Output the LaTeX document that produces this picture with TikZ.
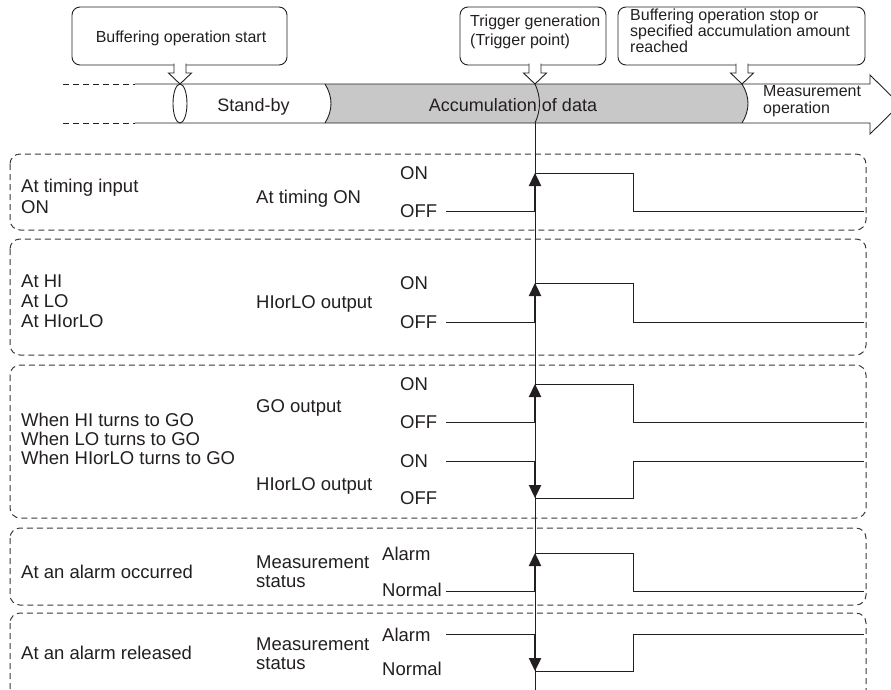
\documentclass[tikz,border=0pt]{standalone}
\usepackage{fontspec}
\setmainfont{Liberation Sans}
\usetikzlibrary{arrows.meta,positioning}
\definecolor{ink}{HTML}{231F20}
\definecolor{bandgray}{HTML}{C8C8C8}
\definecolor{dashgray}{HTML}{3A3A3A}
\tikzset{
  callbox/.style={
    draw=ink,
    line width=0.9pt,
    rounded corners=8pt
  },
  pointerbox/.style={draw=ink,fill=white,line width=0.9pt},
  panelbox/.style={
    draw=dashgray,
    line width=1pt,
    dash pattern=on 6pt off 4pt,
    rounded corners=10pt
  },
  bandline/.style={draw=ink,line width=0.9pt},
  wave/.style={draw=ink,line width=0.9pt},
  trigline/.style={draw=ink,line width=0.9pt},
  edgearrow/.style={-{Triangle[length=13pt,width=12pt]},line width=2.4pt,draw=ink},
  rowlabel/.style={anchor=west,inner sep=0pt,text height=13.2pt,text depth=0pt,text=ink,font=\fontsize{18.5}{22}\selectfont},
  bandlabel/.style={anchor=center,inner sep=0pt,text height=13pt,text depth=0pt,text=ink,font=\fontsize{18}{21}\selectfont},
  notelabel/.style={anchor=west,inner sep=0pt,text height=11.5pt,text depth=0pt,text=ink,font=\fontsize{16}{19}\selectfont}
}
\newcommand{\callpointer}[1]{%
  \filldraw[pointerbox] ({#1-6},63.5) -- ({#1-6},73) -- ({#1-11.5},73) -- (#1,84)
    -- ({#1+11.5},73) -- ({#1+6},73) -- ({#1+6},63.5);}

\begin{document}
\begin{tikzpicture}[x=1pt,y=-1pt]
  \useasboundingbox (0,0) rectangle (891,689);

  % callouts
  \draw[callbox] (72,7) rectangle (287,65);
  \draw[callbox] (460,7) rectangle (606,65);
  \draw[callbox] (618,7) rectangle (865,65);
  \node[notelabel,anchor=center] (startnote) at (181,37) {Buffering operation start};
  \node[notelabel] (trignote)  at (470,21) {Trigger generation};
  \node[notelabel] (trignote2) at (470,40) {(Trigger point)};
  \node[notelabel] (stopnote)  at (630,15) {Buffering operation stop or};
  \node[notelabel] (stopnote2) at (630,31) {specified accumulation amount};
  \node[notelabel] (stopnote3) at (630,47) {reached};

  % operation band
  \fill[bandgray] (325,84) .. controls (333,97) and (333,110) .. (325,123)
    -- (742,123) .. controls (750,110) and (750,97) .. (742,84) -- cycle;
  \draw[bandline,dash pattern=on 6pt off 4pt] (63,84) -- (135,84);
  \draw[bandline,dash pattern=on 6pt off 4pt] (63,123) -- (135,123);
  \draw[bandline] (135,84) -- (870,84) -- (870,75) -- (900,104.5) -- (870,134)
    -- (870,123) -- (135,123);
  \draw[bandline] (325,84) .. controls (333,97) and (333,110) .. (325,123);
  \draw[bandline] (742,84) .. controls (750,97) and (750,110) .. (742,123);
  \draw[bandline] (535,84) .. controls (541,97) and (541,110) .. (535,123);
  \draw[bandline,fill=white] (180,103.5) ellipse [x radius=7,y radius=19.5];
  \node[bandlabel] (standby) at (253.5,105) {Stand-by};
  \node[bandlabel] (accum)   at (513,105) {Accumulation of data};
  \node[notelabel] (measop)  at (763,91) {Measurement};
  \node[notelabel] (measop2) at (763,108) {operation};

  \callpointer{180}
  \callpointer{535}
  \callpointer{742}

  % condition panels
  \draw[panelbox] (10,154) rectangle (866,230);
  \draw[panelbox] (10,239) rectangle (866,355);
  \draw[panelbox] (10,365) rectangle (866,518);
  \draw[panelbox] (10,528) rectangle (866,605);
  \draw[panelbox] (10,613) rectangle (866,700);

  % trigger point
  \coordinate (trigtop) at (535,123);
  \coordinate (trigend) at (535,700);
  \draw[trigline] (trigtop) -- (trigend);

  % waveforms
  \draw[wave] (446,211) -- (535,211);
  \draw[wave] (535,173) -- (633,173) -- (633,211) -- (864,211);
  \draw[wave] (446,322) -- (535,322);
  \draw[wave] (535,283) -- (633,283) -- (633,322) -- (864,322);
  \draw[wave] (446,422) -- (535,422);
  \draw[wave] (535,384) -- (633,384) -- (633,422) -- (864,422);
  \draw[wave] (446,461) -- (535,461);
  \draw[wave] (535,498) -- (633,498) -- (633,461) -- (864,461);
  \draw[wave] (446,591) -- (535,591);
  \draw[wave] (535,553) -- (633,553) -- (633,591) -- (864,591);
  \draw[wave] (446,634) -- (535,634);
  \draw[wave] (535,671) -- (633,671) -- (633,634) -- (864,634);

  \draw[edgearrow] (535,211) -- (535,173);
  \draw[edgearrow] (535,322) -- (535,283);
  \draw[edgearrow] (535,422) -- (535,384);
  \draw[edgearrow] (535,461) -- (535,498);
  \draw[edgearrow] (535,591) -- (535,553);
  \draw[edgearrow] (535,634) -- (535,671);

  % panel 1
  \node[rowlabel] (timecond)  at (21,186) {At timing input};
  \node[rowlabel] (timecond2) at (21,207) {ON};
  \node[rowlabel] (timesig)   at (256,197) {At timing ON};
  \node[rowlabel] (timeon)    at (400,173) {ON};
  \node[rowlabel] (timeoff)   at (400,211) {OFF};

  % panel 2
  \node[rowlabel] (hicond)    at (21,281) {At HI};
  \node[rowlabel] (locond)    at (21,301) {At LO};
  \node[rowlabel] (hilocond)  at (21,321) {At HIorLO};
  \node[rowlabel] (hilosig)   at (256,302) {HIorLO output};
  \node[rowlabel] (hilon)     at (400,283) {ON};
  \node[rowlabel] (hiloff)    at (400,322) {OFF};

  % panel 3
  \node[rowlabel] (gocond)    at (21,420) {When HI turns to GO};
  \node[rowlabel] (gocond2)   at (21,439) {When LO turns to GO};
  \node[rowlabel] (gocond3)   at (21,458) {When HIorLO turns to GO};
  \node[rowlabel] (gosig)     at (256,406) {GO output};
  \node[rowlabel] (gosig2)    at (256,484) {HIorLO output};
  \node[rowlabel] (goon)      at (400,384) {ON};
  \node[rowlabel] (gooff)     at (400,422) {OFF};
  \node[rowlabel] (goon2)     at (400,461) {ON};
  \node[rowlabel] (gooff2)    at (400,498) {OFF};

  % panel 4
  \node[rowlabel] (almcond)   at (21,572) {At an alarm occurred};
  \node[rowlabel] (almsig)    at (256,562) {Measurement};
  \node[rowlabel] (almsig2)   at (256,581) {status};
  \node[rowlabel] (almon)     at (382,554) {Alarm};
  \node[rowlabel] (almoff)    at (382,590) {Normal};

  % panel 5
  \node[rowlabel] (relcond)   at (21,653) {At an alarm released};
  \node[rowlabel] (relsig)    at (256,644) {Measurement};
  \node[rowlabel] (relsig2)   at (256,663) {status};
  \node[rowlabel] (relon)     at (382,635) {Alarm};
  \node[rowlabel] (reloff)    at (382,669) {Normal};
\end{tikzpicture}
\end{document}
